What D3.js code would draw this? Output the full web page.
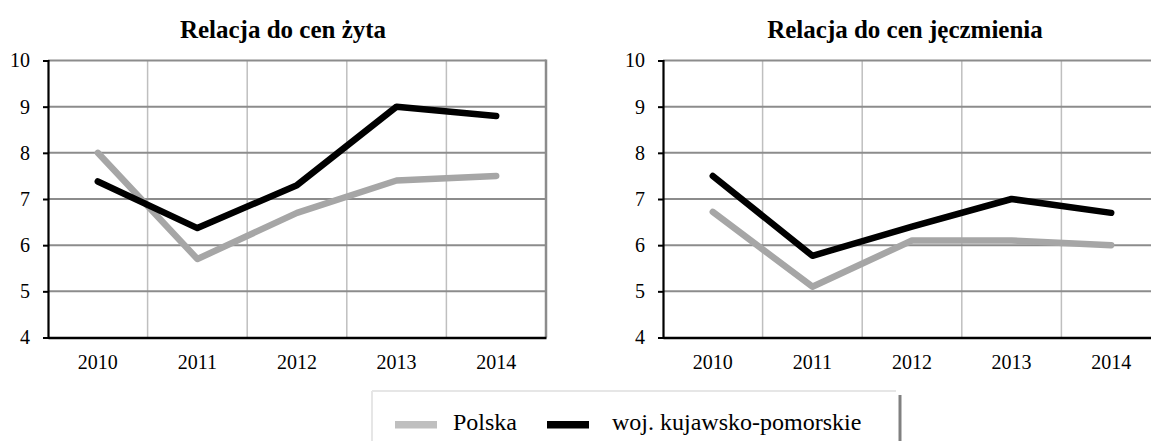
<!DOCTYPE html>
<html>
<head>
<meta charset="utf-8">
<script src="https://cdn.jsdelivr.net/npm/d3@7"></script>
<style>
  html, body { margin: 0; padding: 0; background: #fff; }
  svg { display: block; font-family: "Liberation Serif", "Times New Roman", serif; }
</style>
</head>
<body>
<svg id="chart" width="1151" height="441"></svg>
<script>
// Lata na osi X
const years = ["2010", "2011", "2012", "2013", "2014"];
const yTicks = [4, 5, 6, 7, 8, 9, 10];

// Relacja do cen żyta
const polskaZyto = [8.0, 5.7, 6.7, 7.4, 7.5];
const kujZyto = [7.38, 6.37, 7.3, 9.0, 8.8];

// Relacja do cen jęczmienia
const polskaJecz = [6.72, 5.1, 6.1, 6.1, 6.0];
const kujJecz = [7.5, 5.77, 6.4, 7.0, 6.7];

const seriesNames = ["Polska", "woj. kujawsko-pomorskie"];
const seriesColors = ["#a6a6a6", "#000000"];
const swatchColors = ["#bfbfbf", "#000000"];

const svg = d3.select("#chart");

const panels = [
  { title: "Relacja do cen żyta", x0: 48, x1: 546, titleX: 283, data: [polskaZyto, kujZyto] },
  { title: "Relacja do cen jęczmienia", x0: 663, x1: 1161, titleX: 905, data: [polskaJecz, kujJecz] }
];

const yTop = 60.5, yBottom = 337.5;

panels.forEach(p => {
  const g = svg.append("g");
  const x = d3.scaleBand().domain(years).range([p.x0, p.x1]).padding(0);
  const y = d3.scaleLinear().domain([4, 10]).range([yBottom, yTop]);

  // vertical grid lines between categories
  g.selectAll(".vgrid").data(years.slice(1)).join("line")
    .attr("x1", d => x(d)).attr("x2", d => x(d))
    .attr("y1", yTop).attr("y2", yBottom)
    .attr("stroke", "#bfbfbf").attr("stroke-width", 1.5);

  // horizontal grid lines
  g.selectAll(".hgrid").data(yTicks.slice(1)).join("line")
    .attr("x1", p.x0).attr("x2", p.x1)
    .attr("y1", d => y(d)).attr("y2", d => y(d))
    .attr("stroke", "#8c8c8c").attr("stroke-width", 2);

  // right border of plot area
  g.append("line")
    .attr("x1", p.x1).attr("x2", p.x1)
    .attr("y1", yTop - 1).attr("y2", yBottom)
    .attr("stroke", "#8c8c8c").attr("stroke-width", 2.5);

  // y axis
  const yAxis = d3.axisLeft(y).tickValues(yTicks).tickSize(5).tickPadding(13).tickFormat(d3.format("d"));
  const ya = g.append("g").attr("transform", `translate(${p.x0},0)`).call(yAxis);
  ya.select(".domain").attr("stroke", "#000").attr("stroke-width", 2.2);
  ya.selectAll(".tick line").attr("stroke", "#000").attr("stroke-width", 2);
  ya.selectAll(".tick text").attr("font-size", 20).attr("font-family", "Liberation Serif").attr("fill", "#000");

  // x axis
  const xAxis = d3.axisBottom(x).tickSize(0).tickPadding(17);
  const xa = g.append("g").attr("transform", `translate(0,${yBottom})`).call(xAxis);
  xa.select(".domain").attr("stroke", "#000").attr("stroke-width", 2.5);
  xa.selectAll(".tick text").attr("font-size", 20).attr("font-family", "Liberation Serif").attr("fill", "#000");

  // series lines
  const line = d3.line()
    .x((d, i) => x(years[i]) + x.bandwidth() / 2)
    .y(d => y(d));
  p.data.forEach((vals, si) => {
    g.append("path")
      .datum(vals)
      .attr("d", line)
      .attr("fill", "none")
      .attr("stroke", seriesColors[si])
      .attr("stroke-width", 6.5)
      .attr("stroke-linejoin", "round")
      .attr("stroke-linecap", "round");
  });

  // title
  g.append("text")
    .attr("x", p.titleX).attr("y", 38)
    .attr("text-anchor", "middle")
    .attr("font-size", 25).attr("font-weight", "bold")
    .attr("fill", "#000")
    .text(p.title);
});

// legend frame
const lg = svg.append("g");
lg.append("line").attr("x1", 372).attr("x2", 896).attr("y1", 391).attr("y2", 391)
  .attr("stroke", "#e6e6e6").attr("stroke-width", 2);
lg.append("line").attr("x1", 372).attr("x2", 372).attr("y1", 391).attr("y2", 441)
  .attr("stroke", "#e6e6e6").attr("stroke-width", 2);
lg.append("line").attr("x1", 900).attr("x2", 900).attr("y1", 395).attr("y2", 441)
  .attr("stroke", "#808080").attr("stroke-width", 3);

const legendItems = [
  { sx: 395, tx: 453 },
  { sx: 547, tx: 612 }
];
legendItems.forEach((it, i) => {
  lg.append("rect")
    .attr("x", it.sx).attr("y", 421)
    .attr("width", 42).attr("height", 7.5)
    .attr("fill", swatchColors[i]);
  lg.append("text")
    .attr("x", it.tx).attr("y", 430)
    .attr("font-size", 24)
    .attr("fill", "#000")
    .text(seriesNames[i]);
});
</script>
</body>
</html>
